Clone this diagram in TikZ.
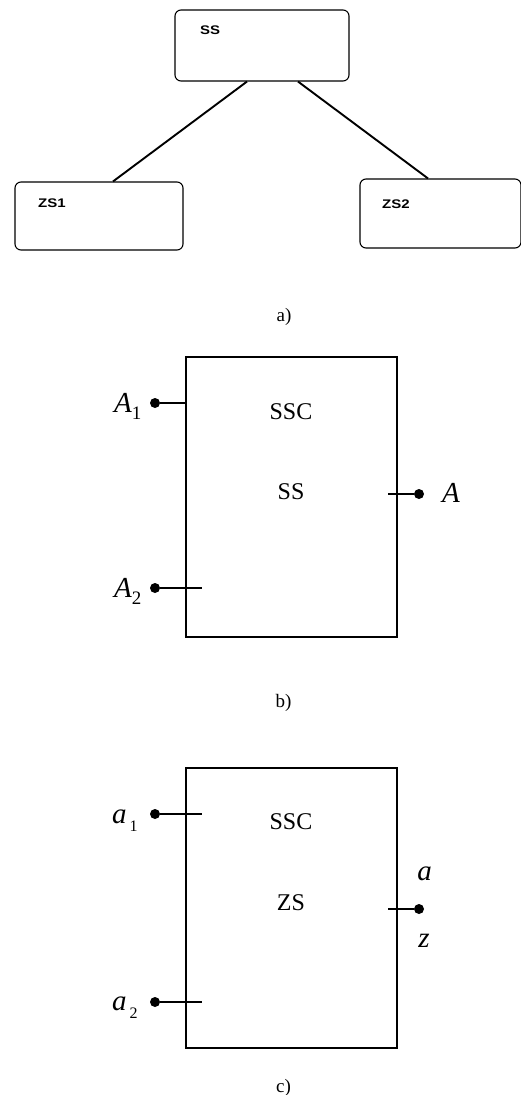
\documentclass[tikz,border=0pt]{standalone}
\usepackage{fontspec}
\setmainfont{Liberation Serif}
\newfontfamily\arialbold[BoldFont={Liberation Sans Bold}]{Liberation Sans}
\usetikzlibrary{calc}
\begin{document}
\begin{tikzpicture}[x=1pt,y=-1pt,
  rbox/.style={draw,line width=1.1pt,rounded corners=6pt,inner sep=0pt},
  sbox/.style={draw,line width=1.7pt,inner sep=0pt},
  wire/.style={line width=1.8pt},
  tree/.style={line width=1.9pt},
  term/.style={circle,fill=black,inner sep=0pt,minimum size=10pt},
  alab/.style={font=\arialbold\bfseries\fontsize{12.5}{14}\selectfont,inner sep=0pt,xscale=1.2},
  blab/.style={font=\fontsize{24}{28}\selectfont,inner sep=0pt},
  captext/.style={font=\fontsize{19}{22}\selectfont,inner sep=0pt},
  tlab/.style={font=\fontsize{29}{32}\selectfont\itshape,inner sep=0pt}]
\useasboundingbox (0,0) rectangle (520,1095);
% ---------- a)
\node[rbox,minimum width=174pt,minimum height=71pt] (ss) at (262,45.5) {};
\node[rbox,minimum width=168pt,minimum height=68pt] (zs1) at (99,216) {};
\node[rbox,minimum width=161pt,minimum height=69pt] (zs2) at (440.5,213.5) {};
\node[alab,anchor=base west] (tss) at (200,34) {SS};
\node[alab,anchor=base west] (tzs1) at (38,207) {ZS1};
\node[alab,anchor=base west] (tzs2) at (382,208) {ZS2};
\draw[tree] ($(ss.south)+(-15,0)$) -- ($(zs1.north)+(14,0)$);
\draw[tree] ($(ss.south)+(36,0)$) -- ($(zs2.north)+(-12.5,0)$);
\node[captext,anchor=base] (capa) at (284,321) {a)};
% ---------- b)
\node[sbox,minimum width=211pt,minimum height=280pt] (bb) at (291.5,497) {};
\node[blab,anchor=base] (bssc) at (291,419) {SSC};
\node[blab,anchor=base] (bss) at (291,499) {SS};
\node[term] (bA1) at (155,403) {};
\node[term] (bA2) at (155,588) {};
\node[term] (bA) at (419,494) {};
\coordinate (bA1e) at (186,403);
\coordinate (bA2e) at (202,588);
\coordinate (bAe) at (388,494);
\draw[wire] (bA1) -- (bA1e);
\draw[wire] (bA2) -- (bA2e);
\draw[wire] (bAe) -- (bA);
\node[tlab,anchor=base west] (tA1) at (114,412) {A\raisebox{-7pt}{\fontsize{19}{19}\selectfont\upshape 1}};
\node[tlab,anchor=base west] (tA2) at (114,597) {A\raisebox{-7pt}{\fontsize{19}{19}\selectfont\upshape 2}};
\node[tlab,anchor=base west] (tA) at (442,502) {A};
\node[captext,anchor=base] (capb) at (283.5,707) {b)};
% ---------- c)
\node[sbox,minimum width=211pt,minimum height=280pt] (cb) at (291.5,908) {};
\node[blab,anchor=base] (cssc) at (291,829) {SSC};
\node[blab,anchor=base] (czs) at (291,910) {ZS};
\node[term] (ca1) at (155,814) {};
\node[term] (ca2) at (155,1002) {};
\node[term] (ca) at (419,909) {};
\coordinate (ca1e) at (202,814);
\coordinate (ca2e) at (202,1002);
\coordinate (cae) at (388,909);
\draw[wire] (ca1) -- (ca1e);
\draw[wire] (ca2) -- (ca2e);
\draw[wire] (cae) -- (ca);
\node[tlab,anchor=base west] (ta1) at (112,823) {a\hspace{3pt}\raisebox{-8pt}{\fontsize{16}{16}\selectfont\upshape 1}};
\node[tlab,anchor=base west] (ta2) at (112,1010) {a\hspace{3pt}\raisebox{-8pt}{\fontsize{16}{16}\selectfont\upshape 2}};
\node[tlab,anchor=base] (ta) at (424.5,880) {a};
\node[tlab,anchor=base] (tz) at (424,947) {z};
\node[captext,anchor=base] (capc) at (283.5,1092) {c)};
\end{tikzpicture}
\end{document}
